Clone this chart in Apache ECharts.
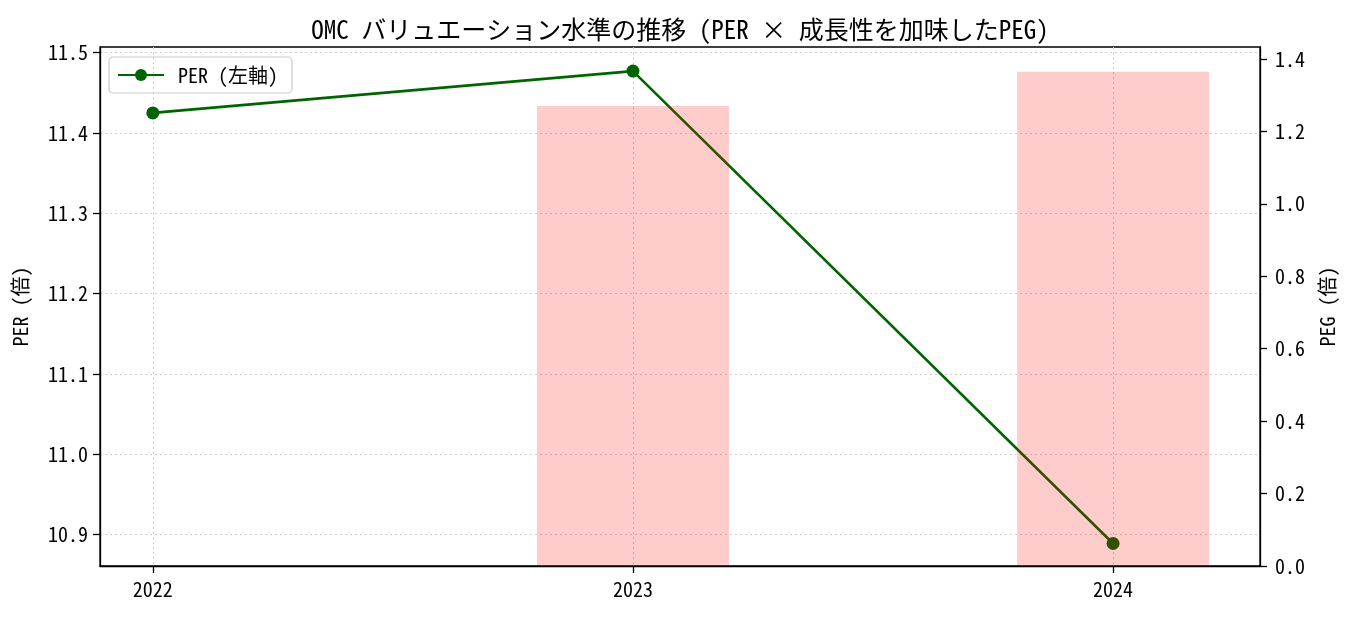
<!DOCTYPE html>
<html><head><meta charset="utf-8">
<script src="https://cdn.jsdelivr.net/npm/echarts@6/dist/echarts.min.js"></script>
<style>html,body{margin:0;padding:0;background:#fff}#c{width:1351px;height:617px}</style>
</head><body><div id="c"></div>
<script>
const years = [2022, 2023, 2024];
const perValues = [11.425, 11.477, 10.889];
const pegValues = [null, 1.27, 1.365];
const perTicks = [10.9, 11.0, 11.1, 11.2, 11.3, 11.4, 11.5];
const pegTicks = [0, 0.2, 0.4, 0.6, 0.8, 1.0, 1.2, 1.4];
const titleText = 'OMC バリュエーション水準の推移 (PER × 成長性を加味したPEG)';

const FONT = '"Noto Sans Mono CJK JP", "Noto Sans CJK JP", monospace';
const chart = echarts.init(document.getElementById('c'));
const gridLine = {show: true, lineStyle: {color: '#cfcfcf', type: [2, 3], width: 1}};
chart.setOption({
  animation: false,
  textStyle: {fontFamily: FONT},
  title: {text: titleText, left: 675, top: 12, textAlign: 'center',
    textStyle: {fontFamily: FONT, fontSize: 25, fontWeight: 'normal', color: '#000'}},
  grid: {left: 100, right: 91, top: 47, bottom: 51, show: true,
    borderColor: '#000', borderWidth: 1.3, backgroundColor: 'transparent'},
  legend: {data: ['PER (左軸)'], left: 109, top: 57, orient: 'vertical',
    borderColor: '#cccccc', borderWidth: 1.2, borderRadius: 4, padding: [8, 14, 8, 8],
    itemWidth: 46, itemHeight: 15, itemGap: 6,
    textStyle: {fontFamily: FONT, fontSize: 20, color: '#000', padding: [0, 0, 0, 9]}},
  xAxis: {type: 'value', min: 2021.89, max: 2024.306,
    axisLine: {lineStyle: {color: '#000', width: 1.3}},
    axisTick: {customValues: years, length: 7, lineStyle: {color: '#000', width: 1.3}},
    axisLabel: {customValues: years, color: '#000', fontSize: 20, margin: 13,
      formatter: v => String(Math.round(v))},
    splitLine: Object.assign({customValues: years}, gridLine)},
  yAxis: [
    {type: 'value', min: 10.861, max: 11.507, name: 'PER (倍)', nameLocation: 'middle',
      nameGap: 70, nameRotate: 90, nameTextStyle: {color: '#000', fontSize: 20, fontFamily: FONT},
      axisLine: {show: true, lineStyle: {color: '#000', width: 1.3}},
      axisTick: {show: true, customValues: perTicks, length: 7, lineStyle: {color: '#000', width: 1.3}},
      axisLabel: {customValues: perTicks, color: '#000', fontSize: 20, margin: 12,
        formatter: v => v.toFixed(1)},
      splitLine: Object.assign({customValues: perTicks}, gridLine)},
    {type: 'value', min: 0, max: 1.433, position: 'right', name: 'PEG (倍)', nameLocation: 'middle',
      nameGap: 57, nameRotate: 90, nameTextStyle: {color: '#000', fontSize: 20, fontFamily: FONT},
      axisLine: {show: true, lineStyle: {color: '#000', width: 1.3}},
      axisTick: {show: true, customValues: pegTicks, length: 7, lineStyle: {color: '#000', width: 1.3}},
      axisLabel: {customValues: pegTicks, color: '#000', fontSize: 20, margin: 15,
        formatter: v => v.toFixed(1)},
      splitLine: {show: false}}
  ],
  series: [
    {name: 'PER (左軸)', type: 'line', yAxisIndex: 0, z: 2,
      data: years.map((y, i) => [y, perValues[i]]),
      symbol: 'circle', symbolSize: 13,
      lineStyle: {color: '#006400', width: 2.6},
      itemStyle: {color: '#006400'}},
    {name: 'PEG (右軸)', type: 'bar', yAxisIndex: 1, z: 5, barWidth: 192,
      data: years.map((y, i) => [y, pegValues[i]]),
      itemStyle: {color: 'rgba(255,0,0,0.2)'}}
  ]
});
</script></body></html>
